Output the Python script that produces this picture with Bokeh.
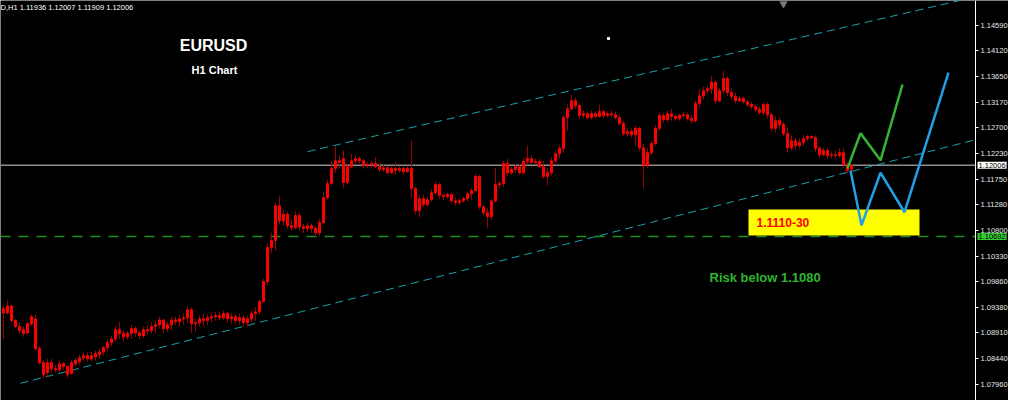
from bokeh.plotting import figure
from bokeh.models import (ColumnDataSource, Range1d, LinearAxis, FixedTicker,
                          PrintfTickFormatter, Label)
from bokeh.embed import file_html
from bokeh.resources import INLINE

# ---------------- data (EURUSD H1) ----------------
header_text = "D,H1  1.11936 1.12007 1.11909 1.12006"
title_text = "EURUSD"
subtitle_text = "H1 Chart"
zone_text = "1.1110-30"
risk_text = "Risk below 1.1080"

open_ = [
    1.0936, 1.0928, 1.0941, 1.0914, 1.0903, 1.0897, 1.0891, 1.0908, 1.0917, 1.0862,
    1.0836, 1.0818, 1.0836, 1.0825, 1.0823, 1.0834, 1.0829, 1.0816, 1.0834, 1.0838,
    1.0845, 1.0849, 1.0843, 1.0847, 1.0851, 1.0856, 1.0864, 1.0873, 1.0880, 1.0897,
    1.0890, 1.0884, 1.0890, 1.0899, 1.0891, 1.0886, 1.0897, 1.0895, 1.0903, 1.0906,
    1.0915, 1.0899, 1.0906, 1.0915, 1.0912, 1.0917, 1.0919, 1.0934, 1.0908, 1.0910,
    1.0917, 1.0914, 1.0919, 1.0921, 1.0923, 1.0919, 1.0927, 1.0917, 1.0921, 1.0914,
    1.0919, 1.0910, 1.0917, 1.0927, 1.0930, 1.0949, 1.0986, 1.1049, 1.1062, 1.1126,
    1.1098, 1.1110, 1.1089, 1.1086, 1.1108, 1.1087, 1.1084, 1.1089, 1.1084, 1.1076,
    1.1095, 1.1141, 1.1167, 1.1195, 1.1209, 1.1213, 1.1169, 1.1198, 1.1209, 1.1213,
    1.1209, 1.1200, 1.1202, 1.1204, 1.1198, 1.1193, 1.1196, 1.1187, 1.1195, 1.1191,
    1.1195, 1.1189, 1.1195, 1.1158, 1.1117, 1.1139, 1.1128, 1.1137, 1.1150, 1.1165,
    1.1145, 1.1143, 1.1147, 1.1135, 1.1132, 1.1135, 1.1139, 1.1148, 1.1154, 1.1180,
    1.1124, 1.1113, 1.1106, 1.1135, 1.1165, 1.1167, 1.1204, 1.1187, 1.1193, 1.1198,
    1.1187, 1.1208, 1.1213, 1.1206, 1.1208, 1.1198, 1.1180, 1.1187, 1.1209, 1.1222,
    1.1232, 1.1289, 1.1305, 1.1320, 1.1311, 1.1293, 1.1296, 1.1289, 1.1296, 1.1291,
    1.1300, 1.1293, 1.1296, 1.1294, 1.1289, 1.1278, 1.1259, 1.1263, 1.1257, 1.1269,
    1.1233, 1.1200, 1.1224, 1.1241, 1.1269, 1.1293, 1.1285, 1.1296, 1.1291, 1.1287,
    1.1293, 1.1294, 1.1287, 1.1283, 1.1315, 1.1329, 1.1339, 1.1342, 1.1354, 1.1320,
    1.1339, 1.1361, 1.1335, 1.1328, 1.1320, 1.1324, 1.1318, 1.1313, 1.1309, 1.1304,
    1.1298, 1.1313, 1.1294, 1.1269, 1.1283, 1.1276, 1.1259, 1.1233, 1.1246, 1.1237,
    1.1243, 1.1250, 1.1254, 1.1252, 1.1232, 1.1220, 1.1228, 1.1219, 1.1220, 1.1219,
    1.1224, 1.1202, 1.11936]

high_ = [
    1.0941, 1.0951, 1.0943, 1.0917, 1.0910, 1.0903, 1.0912, 1.0925, 1.0925, 1.0867,
    1.0840, 1.0843, 1.0843, 1.0832, 1.0840, 1.0838, 1.0832, 1.0842, 1.0845, 1.0851,
    1.0855, 1.0855, 1.0856, 1.0858, 1.0862, 1.0867, 1.0879, 1.0886, 1.0904, 1.0912,
    1.0895, 1.0895, 1.0906, 1.0903, 1.0895, 1.0903, 1.0906, 1.0910, 1.0914, 1.0921,
    1.0917, 1.0912, 1.0921, 1.0921, 1.0925, 1.0927, 1.0940, 1.0938, 1.0917, 1.0923,
    1.0927, 1.0925, 1.0927, 1.0930, 1.0930, 1.0932, 1.0930, 1.0928, 1.0925, 1.0927,
    1.0923, 1.0923, 1.0932, 1.0938, 1.0954, 1.0991, 1.1056, 1.1076, 1.1132, 1.1145,
    1.1117, 1.1115, 1.1100, 1.1115, 1.1113, 1.1093, 1.1095, 1.1093, 1.1089, 1.1102,
    1.1150, 1.1174, 1.1209, 1.1237, 1.1219, 1.1228, 1.1204, 1.1222, 1.1219, 1.1217,
    1.1213, 1.1206, 1.1208, 1.1215, 1.1204, 1.1202, 1.1200, 1.1198, 1.1206, 1.1198,
    1.1198, 1.1200, 1.1246, 1.1161, 1.1145, 1.1147, 1.1143, 1.1156, 1.1171, 1.1169,
    1.1148, 1.1150, 1.1150, 1.1141, 1.1141, 1.1143, 1.1152, 1.1158, 1.1185, 1.1183,
    1.1128, 1.1121, 1.1139, 1.1196, 1.1172, 1.1209, 1.1213, 1.1198, 1.1204, 1.1204,
    1.1213, 1.1237, 1.1219, 1.1213, 1.1213, 1.1209, 1.1195, 1.1215, 1.1228, 1.1237,
    1.1294, 1.1313, 1.1331, 1.1326, 1.1315, 1.1302, 1.1300, 1.1302, 1.1300, 1.1313,
    1.1304, 1.1300, 1.1302, 1.1300, 1.1293, 1.1283, 1.1269, 1.1269, 1.1274, 1.1272,
    1.1241, 1.1232, 1.1246, 1.1274, 1.1298, 1.1298, 1.1302, 1.1305, 1.1294, 1.1296,
    1.1300, 1.1298, 1.1293, 1.1320, 1.1341, 1.1346, 1.1348, 1.1366, 1.1357, 1.1344,
    1.1376, 1.1365, 1.1342, 1.1335, 1.1329, 1.1328, 1.1322, 1.1318, 1.1313, 1.1309,
    1.1318, 1.1317, 1.1298, 1.1291, 1.1289, 1.1281, 1.1270, 1.1256, 1.1252, 1.1250,
    1.1256, 1.1257, 1.1257, 1.1256, 1.1237, 1.1233, 1.1232, 1.1226, 1.1228, 1.1232,
    1.1232, 1.1206, 1.12007]

low_ = [
    1.0880, 1.0925, 1.0910, 1.0899, 1.0891, 1.0884, 1.0890, 1.0904, 1.0858, 1.0832,
    1.0807, 1.0810, 1.0819, 1.0818, 1.0819, 1.0823, 1.0808, 1.0814, 1.0829, 1.0832,
    1.0840, 1.0838, 1.0838, 1.0840, 1.0843, 1.0849, 1.0858, 1.0867, 1.0875, 1.0880,
    1.0875, 1.0879, 1.0880, 1.0884, 1.0879, 1.0882, 1.0888, 1.0890, 1.0891, 1.0899,
    1.0891, 1.0893, 1.0897, 1.0906, 1.0903, 1.0906, 1.0910, 1.0891, 1.0893, 1.0903,
    1.0904, 1.0906, 1.0910, 1.0914, 1.0914, 1.0915, 1.0910, 1.0908, 1.0908, 1.0906,
    1.0903, 1.0903, 1.0910, 1.0914, 1.0925, 1.0947, 1.0980, 1.1039, 1.1043, 1.1091,
    1.1089, 1.1084, 1.1080, 1.1082, 1.1080, 1.1076, 1.1078, 1.1076, 1.1071, 1.1069,
    1.1091, 1.1137, 1.1163, 1.1187, 1.1195, 1.1158, 1.1165, 1.1195, 1.1204, 1.1204,
    1.1195, 1.1195, 1.1196, 1.1195, 1.1189, 1.1189, 1.1183, 1.1185, 1.1183, 1.1187,
    1.1183, 1.1187, 1.1141, 1.1110, 1.1104, 1.1123, 1.1124, 1.1134, 1.1147, 1.1139,
    1.1137, 1.1139, 1.1130, 1.1126, 1.1128, 1.1132, 1.1134, 1.1137, 1.1150, 1.1119,
    1.1108, 1.1084, 1.1100, 1.1132, 1.1159, 1.1161, 1.1182, 1.1183, 1.1187, 1.1183,
    1.1183, 1.1202, 1.1202, 1.1202, 1.1195, 1.1176, 1.1163, 1.1182, 1.1206, 1.1213,
    1.1224, 1.1265, 1.1302, 1.1305, 1.1287, 1.1287, 1.1285, 1.1285, 1.1287, 1.1289,
    1.1287, 1.1289, 1.1289, 1.1285, 1.1274, 1.1254, 1.1254, 1.1252, 1.1237, 1.1228,
    1.1158, 1.1195, 1.1220, 1.1237, 1.1265, 1.1280, 1.1281, 1.1283, 1.1283, 1.1283,
    1.1287, 1.1283, 1.1278, 1.1280, 1.1307, 1.1322, 1.1333, 1.1333, 1.1315, 1.1317,
    1.1333, 1.1329, 1.1322, 1.1315, 1.1317, 1.1315, 1.1309, 1.1304, 1.1300, 1.1294,
    1.1293, 1.1287, 1.1263, 1.1261, 1.1269, 1.1254, 1.1224, 1.1228, 1.1230, 1.1232,
    1.1237, 1.1246, 1.1248, 1.1226, 1.1215, 1.1217, 1.1213, 1.1213, 1.1213, 1.1215,
    1.1196, 1.1187, 1.11909]

close_ = [
    1.0928, 1.0941, 1.0914, 1.0903, 1.0895, 1.0890, 1.0908, 1.0921, 1.0862, 1.0836,
    1.0814, 1.0836, 1.0825, 1.0823, 1.0834, 1.0829, 1.0814, 1.0836, 1.0840, 1.0845,
    1.0849, 1.0843, 1.0849, 1.0853, 1.0856, 1.0864, 1.0873, 1.0880, 1.0897, 1.0890,
    1.0884, 1.0890, 1.0899, 1.0891, 1.0886, 1.0897, 1.0895, 1.0903, 1.0906, 1.0915,
    1.0899, 1.0906, 1.0915, 1.0912, 1.0917, 1.0919, 1.0934, 1.0908, 1.0910, 1.0917,
    1.0914, 1.0919, 1.0921, 1.0923, 1.0919, 1.0927, 1.0917, 1.0921, 1.0914, 1.0919,
    1.0910, 1.0917, 1.0927, 1.0930, 1.0949, 1.0986, 1.1049, 1.1062, 1.1126, 1.1098,
    1.1110, 1.1089, 1.1086, 1.1108, 1.1087, 1.1084, 1.1089, 1.1084, 1.1076, 1.1095,
    1.1141, 1.1167, 1.1195, 1.1209, 1.1206, 1.1169, 1.1198, 1.1209, 1.1213, 1.1209,
    1.1200, 1.1202, 1.1204, 1.1198, 1.1193, 1.1196, 1.1187, 1.1195, 1.1191, 1.1195,
    1.1189, 1.1195, 1.1158, 1.1117, 1.1139, 1.1128, 1.1137, 1.1150, 1.1165, 1.1145,
    1.1143, 1.1147, 1.1135, 1.1132, 1.1135, 1.1139, 1.1148, 1.1154, 1.1180, 1.1124,
    1.1113, 1.1106, 1.1135, 1.1165, 1.1167, 1.1204, 1.1187, 1.1193, 1.1198, 1.1187,
    1.1208, 1.1213, 1.1206, 1.1208, 1.1198, 1.1180, 1.1187, 1.1209, 1.1222, 1.1232,
    1.1289, 1.1305, 1.1320, 1.1311, 1.1293, 1.1296, 1.1289, 1.1296, 1.1291, 1.1300,
    1.1293, 1.1296, 1.1294, 1.1289, 1.1278, 1.1259, 1.1263, 1.1257, 1.1269, 1.1233,
    1.1200, 1.1224, 1.1241, 1.1269, 1.1293, 1.1285, 1.1296, 1.1291, 1.1287, 1.1293,
    1.1294, 1.1287, 1.1283, 1.1315, 1.1329, 1.1339, 1.1342, 1.1354, 1.1320, 1.1339,
    1.1361, 1.1335, 1.1328, 1.1320, 1.1324, 1.1318, 1.1313, 1.1309, 1.1304, 1.1298,
    1.1313, 1.1294, 1.1269, 1.1283, 1.1276, 1.1259, 1.1233, 1.1246, 1.1237, 1.1243,
    1.1250, 1.1254, 1.1252, 1.1232, 1.1220, 1.1228, 1.1219, 1.1220, 1.1219, 1.1224,
    1.1202, 1.1191, 1.12006]

price_ticks = [1.14590, 1.14120, 1.13650, 1.13170, 1.12700, 1.12230, 1.11750,
               1.11280, 1.10800, 1.10330, 1.09860, 1.09380, 1.08910, 1.08440,
               1.07960, 1.07490]

current_price = 1.12006
stop_level = 1.10692

# drawn channel (bar index, price)
channel_upper_x = [76.0, 239.0]
channel_upper_y = [1.1226, 1.1505]
channel_lower_x = [4.25, 243.0]
channel_lower_y = [1.0798, 1.1248]

# projected paths
green_path_x = [211.0, 214.25, 219.25, 224.75]
green_path_y = [1.1195, 1.1260, 1.1210, 1.1350]
blue_path_x = [211.75, 214.5, 219.25, 225.25, 236.25]
blue_path_y = [1.1191, 1.1090, 1.1187, 1.1114, 1.1372]

# buy zone box
zone_left, zone_right = 186.25, 229.0
zone_bottom, zone_top = 1.1071, 1.1119

# ---------------- figure ----------------
X_START = -0.75
AXIS_AT = 243.0          # bar position of the price scale
p = figure(width=1008, height=400, output_backend="svg", toolbar_location=None,
           x_range=Range1d(X_START, 251.25), y_range=Range1d(1.07662, 1.15052),
           x_axis_location=None, y_axis_location=None,
           min_border_left=0, min_border_right=0, min_border_top=0, min_border_bottom=0,
           background_fill_color="black", border_fill_color="black",
           outline_line_color=None)
p.xgrid.visible = False
p.ygrid.visible = False

ax = LinearAxis(fixed_location=AXIS_AT,
                ticker=FixedTicker(ticks=price_ticks),
                formatter=PrintfTickFormatter(format="%.5f"),
                axis_line_color="white", axis_line_width=1,
                major_tick_line_color="white", major_tick_out=3, major_tick_in=0,
                minor_tick_line_color=None,
                major_label_text_color="#e8e8e8",
                major_label_text_font="Liberation Sans",
                major_label_text_font_size="7.5px",
                major_label_standoff=2)
p.add_layout(ax, "right")

# horizontal levels (up to the price scale)
p.line([X_START, AXIS_AT], [current_price, current_price], line_color="#8c8c8c",
       line_width=1.5, level="underlay")
p.line([X_START, AXIS_AT], [stop_level, stop_level], line_color="#1f8f1f",
       line_width=1.5, line_dash="10 8", level="underlay")

# channel
teal = "#1aa3a8"
p.line(channel_upper_x, channel_upper_y, line_color=teal, line_width=1, line_dash="8 5")
p.line(channel_lower_x, channel_lower_y, line_color=teal, line_width=1, line_dash="8 5")

# candles
bar = list(range(len(close_)))
src = ColumnDataSource(dict(
    x=bar, h=high_, l=low_,
    top=[max(o, c) for o, c in zip(open_, close_)],
    bottom=[min(o, c) for o, c in zip(open_, close_)]))
p.segment(x0="x", y0="h", x1="x", y1="l", source=src, line_color="#a00000", line_width=1)
p.vbar(x="x", width=0.5, top="top", bottom="bottom", source=src,
       fill_color="#ff0000", line_color="#ff0000", line_width=1)

# zone box
p.quad(left=[zone_left], right=[zone_right], bottom=[zone_bottom], top=[zone_top],
       fill_color="#ffff00", line_color=None)

# projections
p.line(green_path_x, green_path_y, line_color="#33b533", line_width=2.5)
p.line(blue_path_x, blue_path_y, line_color="#1e9fe6", line_width=2.5)

# small markers
p.scatter([151.25], [1.1435], marker="square", size=2, color="white")
p.scatter([195.0], [1.1499], marker="inverted_triangle", size=7, color="#777777")

# texts
p.add_layout(Label(x=X_START, y=1.1501, text=header_text, text_align="left", text_baseline="top",
                   text_font="Liberation Sans", text_font_size="7.5px", text_color="white"))
p.add_layout(Label(x=52.5, y=1.1422, text=title_text, text_align="center", text_baseline="middle",
                   text_font="Liberation Sans", text_font_style="bold", text_font_size="16px",
                   text_color="white"))
p.add_layout(Label(x=52.75, y=1.1376, text=subtitle_text, text_align="center", text_baseline="middle",
                   text_font="Liberation Sans", text_font_style="bold", text_font_size="11px",
                   text_color="white"))
p.add_layout(Label(x=188.25, y=1.1095, text=zone_text, text_align="left", text_baseline="middle",
                   text_font="Liberation Sans", text_font_style="bold", text_font_size="12px",
                   text_color="#ff0000"))
p.add_layout(Label(x=176.5, y=1.0993, text=risk_text, text_align="left", text_baseline="middle",
                   text_font="Liberation Sans", text_font_style="bold", text_font_size="13px",
                   text_color="#2fb52f"))

# price tags on the scale
p.add_layout(Label(x=AXIS_AT, y=current_price, text="1.12006", x_offset=2,
                   text_align="left", text_baseline="middle",
                   text_font="Liberation Sans", text_font_size="7.5px", text_color="black",
                   background_fill_color="white", padding=1))
p.add_layout(Label(x=AXIS_AT, y=stop_level, text="1.10692", x_offset=2,
                   text_align="left", text_baseline="middle",
                   text_font="Liberation Sans", text_font_size="7.5px", text_color="black",
                   background_fill_color="#33cc33", padding=1))

open("out.html", "w").write(file_html(p, INLINE))
